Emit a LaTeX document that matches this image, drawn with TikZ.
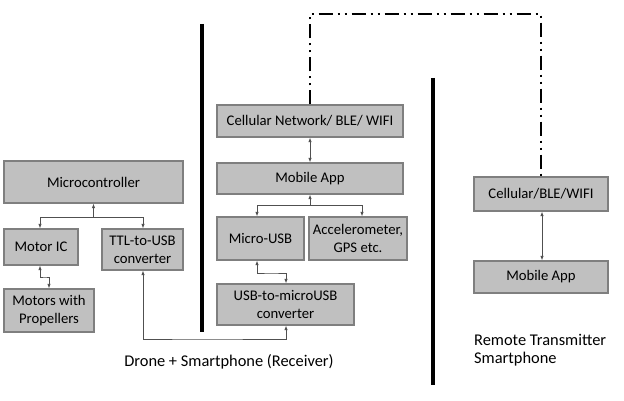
\documentclass[tikz,border=0pt]{standalone}
\usepackage{fontspec}
\setmainfont{Carlito}
\usetikzlibrary{arrows.meta}
\definecolor{boxfill}{HTML}{C0C0C0}
\definecolor{boxline}{HTML}{7F7F7F}
\definecolor{conn}{HTML}{505050}
\tikzset{
  blk/.style={draw=boxline, line width=1.3pt, fill=boxfill, inner sep=0pt, align=center,
    font=\fontsize{14.7}{18}\selectfont},
  lbl/.style={inner sep=0pt, font=\fontsize{16.4}{18.5}\selectfont},
  conn/.style={draw=conn, line width=0.8pt},
  both/.style={conn, {Latex[length=4.5pt,width=3.5pt]}-{Latex[length=4.5pt,width=3.5pt]}},
  one/.style={conn, -{Latex[length=4.5pt,width=3.5pt]}},
  bar/.style={line width=4.5pt, black},
  link/.style={line width=1.8pt, black, dash pattern=on 14pt off 5pt on 2pt off 5pt on 2pt off 5pt}
}
\begin{document}
\begin{tikzpicture}[x=1pt,y=1pt]
\useasboundingbox[fill=white] (0,0) rectangle (624,-401);
% left block
\node[blk, minimum width=179, minimum height=42] (mc) at (93.5,-182) {Microcontroller};
\node[blk, minimum width=74, minimum height=36] (motoric) at (41,-247) {Motor IC};
\node[blk, minimum width=81, minimum height=41] (ttl) at (142.5,-249.5) {TTL-to-USB\\converter};
\node[blk, minimum width=90, minimum height=43] (motors) at (49,-310.5) {Motors with\\Propellers};
% middle block
\node[blk, minimum width=186, minimum height=32] (cell) at (310,-121) {Cellular Network/ BLE/ WIFI};
\node[blk, minimum width=186, minimum height=31] (app) at (310,-178.5) {Mobile App};
\node[blk, minimum width=87, minimum height=43] (microusb) at (260.5,-238.5) {Micro-USB};
\node[blk, minimum width=98, minimum height=43] (accel) at (358,-238.5) {Accelerometer,\\GPS etc.};
\node[blk, minimum width=137, minimum height=41] (usbconv) at (285.5,-304.5) {USB-to-microUSB\\converter};
% right block
\node[blk, minimum width=134, minimum height=34] (cell2) at (541,-194) {Cellular/BLE/WIFI};
\node[blk, minimum width=134, minimum height=32] (app2) at (541,-277) {Mobile App};
% labels
\node[lbl, anchor=base] (drone) at (229,-366) {Drone + Smartphone (Receiver)};
\node[lbl, align=left, anchor=north west] (remote) at (474,-334) {Remote Transmitter\\Smartphone};
% separators
\coordinate (b1t) at (202,-24);
\coordinate (b1b) at (202,-332);
\coordinate (b2t) at (433,-78);
\coordinate (b2b) at (433,-385);
\draw[bar] (b1t) -- (b1b);
\draw[bar] (b2t) -- (b2b);
% wireless link
\coordinate (l1) at (310,-14);
\coordinate (l2) at (541,-14);
\draw[link] (cell.north) -- (l1) -- (l2) -- (cell2.north);
% connectors left
\coordinate (j1) at (93.5,-217);
\draw[one] (j1) -- (mc.south);
\draw[one] (j1) -| ([xshift=-1pt]motoric.north);
\draw[one] (j1) -| ([xshift=0.5pt]ttl.north);
\coordinate (j2) at (45,-277);
\draw[both] ([xshift=-1pt]motoric.south) |- (j2) -| (motors.north);
\coordinate (j3) at (200,-339);
\draw[both] ([xshift=0.5pt]ttl.south) |- (j3) -| ([xshift=0.5pt]usbconv.south);
% connectors middle
\draw[both] (cell.south) -- (app.north);
\coordinate (j4) at (310,-205);
\draw[one] (j4) -- (app.south);
\draw[one] (j4) -| ([xshift=-3.5pt]microusb.north);
\draw[one] (j4) -| ([xshift=4pt]accel.north);
\coordinate (j5) at (271,-273);
\draw[both] ([xshift=-3.5pt]microusb.south) |- (j5) -| ([xshift=0.5pt]usbconv.north);
% connectors right
\draw[both] ([xshift=1pt]cell2.south) -- ([xshift=1pt]app2.north);
\end{tikzpicture}
\end{document}
